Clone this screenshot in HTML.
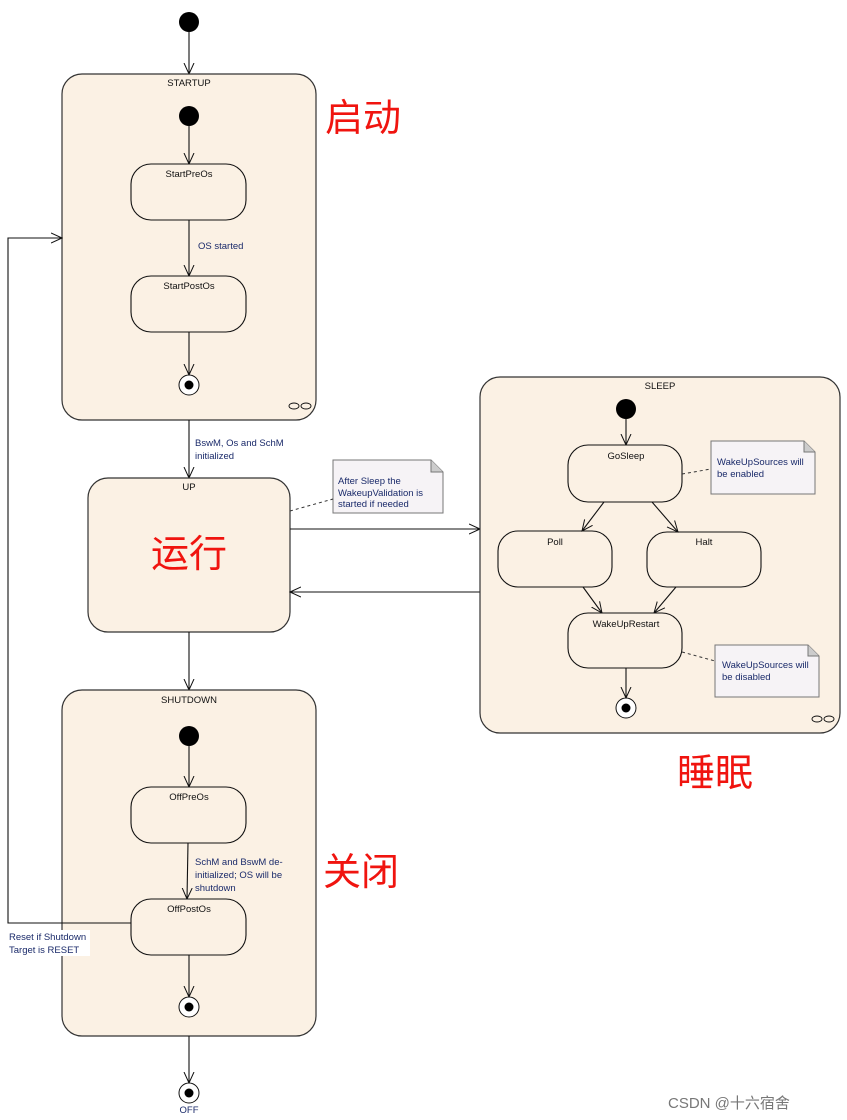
<!DOCTYPE html>
<html><head><meta charset="utf-8"><style>
html,body{margin:0;padding:0;background:#fff;}
svg{display:block;}
text{font-family:"Liberation Sans","Noto Sans CJK SC",sans-serif;font-size:9.5px;fill:#111;}
.red{fill:#f0140f;font-size:38px;font-family:"Noto Sans CJK SC","WenQuanYi Zen Hei",sans-serif;}
.st{fill:#fbf1e4;stroke:#333;stroke-width:1.2;}
.bx{fill:#fbf1e4;stroke:#111;stroke-width:1.1;}
.ln{stroke:#111;stroke-width:1.1;fill:none;}
.note{fill:#f6f3f6;stroke:#777;stroke-width:1;}
.blue{fill:#1a2a6a;}
</style></head><body>
<svg width="847" height="1120" viewBox="0 0 847 1120" xmlns="http://www.w3.org/2000/svg">
<defs>
<marker id="a" viewBox="0 0 12 12" refX="11" refY="6" markerWidth="12" markerHeight="12" markerUnits="userSpaceOnUse" orient="auto">
<path d="M0,1 L11,6 L0,11" fill="none" stroke="#111" stroke-width="1"/>
</marker>
</defs>
<!-- top initial -->
<circle cx="189" cy="22" r="10" fill="#000"/>
<line class="ln" x1="189" y1="32" x2="189" y2="74" marker-end="url(#a)"/>
<!-- STARTUP -->
<rect class="st" x="62" y="74" width="254" height="346" rx="20"/>
<text x="189" y="86" text-anchor="middle">STARTUP</text>
<circle cx="189" cy="116" r="10" fill="#000"/>
<line class="ln" x1="189" y1="126" x2="189" y2="164" marker-end="url(#a)"/>
<rect class="bx" x="131" y="164" width="115" height="56" rx="20"/>
<text x="189" y="177" text-anchor="middle">StartPreOs</text>
<line class="ln" x1="189" y1="220" x2="189" y2="276" marker-end="url(#a)"/>
<text x="198" y="249" class="blue">OS started</text>
<rect class="bx" x="131" y="276" width="115" height="56" rx="20"/>
<text x="189" y="289" text-anchor="middle">StartPostOs</text>
<line class="ln" x1="189" y1="332" x2="189" y2="375" marker-end="url(#a)"/>
<circle cx="189" cy="385" r="10" fill="#fff" stroke="#111"/>
<circle cx="189" cy="385" r="4.5" fill="#000"/>
<g fill="none" stroke="#111" stroke-width="0.9"><ellipse cx="294" cy="406" rx="5" ry="3"/><ellipse cx="306" cy="406" rx="5" ry="3"/></g>
<text x="325" y="131" class="red">启动</text>
<!-- STARTUP -> UP -->
<line class="ln" x1="189" y1="420" x2="189" y2="478" marker-end="url(#a)"/>
<text x="195" y="446" class="blue">BswM, Os and SchM</text>
<text x="195" y="459" class="blue">initialized</text>
<!-- UP -->
<rect class="st" x="88" y="478" width="202" height="154" rx="20"/>
<text x="189" y="490" text-anchor="middle">UP</text>
<text x="189" y="567" class="red" text-anchor="middle">运行</text>
<!-- note -->
<path class="note" d="M333,460 H431 L443,472 V513 H333 Z"/>
<path d="M431,460 V472 H443" fill="#ccc" stroke="#777"/>
<text x="338" y="484" class="blue">After Sleep the</text>
<text x="338" y="496" class="blue">WakeupValidation is</text>
<text x="338" y="507" class="blue">started if needed</text>
<line x1="290" y1="511" x2="333" y2="499" stroke="#333" stroke-dasharray="3,3"/>
<!-- UP <-> SLEEP -->
<line class="ln" x1="290" y1="529" x2="480" y2="529" marker-end="url(#a)"/>
<line class="ln" x1="480" y1="592" x2="290" y2="592" marker-end="url(#a)"/>
<!-- SLEEP -->
<rect class="st" x="480" y="377" width="360" height="356" rx="20"/>
<text x="660" y="389" text-anchor="middle">SLEEP</text>
<circle cx="626" cy="409" r="10" fill="#000"/>
<line class="ln" x1="626" y1="419" x2="626" y2="445" marker-end="url(#a)"/>
<rect class="bx" x="568" y="445" width="114" height="57" rx="20"/>
<text x="626" y="459" text-anchor="middle">GoSleep</text>
<path class="note" d="M711,441 H804 L815,452 V494 H711 Z"/>
<path d="M804,441 V452 H815" fill="#ccc" stroke="#777"/>
<text x="717" y="465" class="blue">WakeUpSources will</text>
<text x="717" y="477" class="blue">be enabled</text>
<line x1="682" y1="474" x2="711" y2="469" stroke="#333" stroke-dasharray="3,3"/>
<rect class="bx" x="498" y="531" width="114" height="56" rx="20"/>
<text x="555" y="545" text-anchor="middle">Poll</text>
<rect class="bx" x="647" y="532" width="114" height="55" rx="20"/>
<text x="704" y="545" text-anchor="middle">Halt</text>
<line class="ln" x1="604" y1="502" x2="582" y2="531" marker-end="url(#a)"/>
<line class="ln" x1="652" y1="502" x2="678" y2="532" marker-end="url(#a)"/>
<line class="ln" x1="583" y1="587" x2="602" y2="613" marker-end="url(#a)"/>
<line class="ln" x1="676" y1="587" x2="654" y2="613" marker-end="url(#a)"/>
<rect class="bx" x="568" y="613" width="114" height="55" rx="20"/>
<text x="626" y="627" text-anchor="middle">WakeUpRestart</text>
<path class="note" d="M715,645 H808 L819,656 V697 H715 Z"/>
<path d="M808,645 V656 H819" fill="#ccc" stroke="#777"/>
<text x="722" y="668" class="blue">WakeUpSources will</text>
<text x="722" y="680" class="blue">be disabled</text>
<line x1="682" y1="652" x2="715" y2="661" stroke="#333" stroke-dasharray="3,3"/>
<line class="ln" x1="626" y1="668" x2="626" y2="698" marker-end="url(#a)"/>
<circle cx="626" cy="708" r="10" fill="#fff" stroke="#111"/>
<circle cx="626" cy="708" r="4.5" fill="#000"/>
<g fill="none" stroke="#111" stroke-width="0.9"><ellipse cx="817" cy="719" rx="5" ry="3"/><ellipse cx="829" cy="719" rx="5" ry="3"/></g>
<text x="715" y="786" class="red" text-anchor="middle">睡眠</text>
<!-- UP -> SHUTDOWN -->
<line class="ln" x1="189" y1="632" x2="189" y2="690" marker-end="url(#a)"/>
<rect class="st" x="62" y="690" width="254" height="346" rx="20"/>
<text x="189" y="703" text-anchor="middle">SHUTDOWN</text>
<circle cx="189" cy="736" r="10" fill="#000"/>
<line class="ln" x1="189" y1="746" x2="189" y2="787" marker-end="url(#a)"/>
<rect class="bx" x="131" y="787" width="115" height="56" rx="20"/>
<text x="189" y="800" text-anchor="middle">OffPreOs</text>
<line class="ln" x1="188" y1="843" x2="187" y2="899" marker-end="url(#a)"/>
<text x="195" y="865" class="blue">SchM and BswM de-</text>
<text x="195" y="878" class="blue">initialized; OS will be</text>
<text x="195" y="891" class="blue">shutdown</text>
<rect class="bx" x="131" y="899" width="115" height="56" rx="20"/>
<text x="189" y="912" text-anchor="middle">OffPostOs</text>
<line class="ln" x1="189" y1="955" x2="189" y2="997" marker-end="url(#a)"/>
<circle cx="189" cy="1007" r="10" fill="#fff" stroke="#111"/>
<circle cx="189" cy="1007" r="4.5" fill="#000"/>
<text x="323" y="885" class="red">关闭</text>
<!-- OFF -->
<line class="ln" x1="189" y1="1036" x2="189" y2="1083" marker-end="url(#a)"/>
<circle cx="189" cy="1093" r="10" fill="#fff" stroke="#111"/>
<circle cx="189" cy="1093" r="4.5" fill="#000"/>
<text x="189" y="1113" text-anchor="middle" class="blue">OFF</text>
<!-- reset loop -->
<path class="ln" d="M131,923 H8 V238 H62" marker-end="url(#a)"/>
<rect x="8" y="930" width="82" height="26" fill="#fff"/>
<text x="9" y="940" class="blue">Reset if Shutdown</text>
<text x="9" y="953" class="blue">Target is RESET</text>
<!-- watermark -->
<text x="668" y="1108" style="font-size:15px;fill:#777;">CSDN @十六宿舍</text>
</svg>
</body></html>
